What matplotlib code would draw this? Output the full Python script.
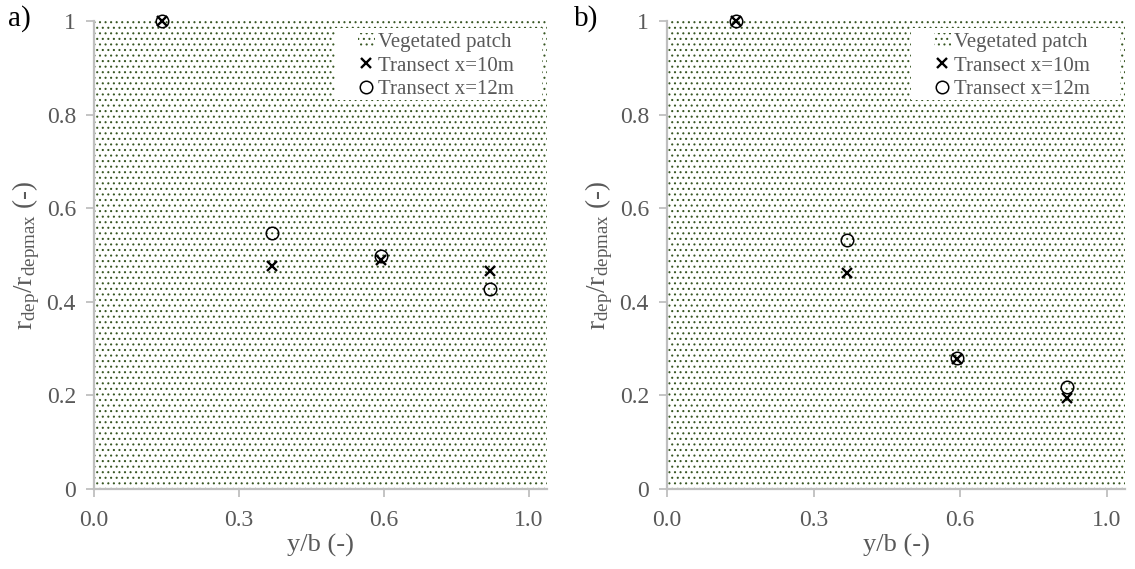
import matplotlib
matplotlib.use("Agg")
import matplotlib.pyplot as plt
from matplotlib.patches import Rectangle

plt.rcParams['font.family'] = ['Liberation Serif', 'DejaVu Serif']
plt.rcParams['mathtext.fontset'] = 'custom'
plt.rcParams['mathtext.rm'] = 'Liberation Serif'
plt.rcParams['mathtext.it'] = 'Liberation Serif:italic'
plt.rcParams['hatch.linewidth'] = 0.75

# lateral position across the patch (y/b) of the sampling points
y_over_b = [0.151, 0.392, 0.633, 0.874]

# normalised deposition rate, panel a
a_x10 = [1.0, 0.477, 0.490, 0.465]
a_x12 = [1.0, 0.547, 0.497, 0.428]

# normalised deposition rate, panel b
b_x10 = [1.0, 0.462, 0.277, 0.194]
b_x12 = [1.0, 0.531, 0.280, 0.218]

# extent of the vegetated patch shading
patch_x = [0.0, 1.0]
patch_top = [1.0, 1.0]

x_ticks = [0.0, 0.32, 0.64, 0.96]
x_tick_labels = ['0.0', '0.3', '0.6', '1.0']
y_ticks = [0, 0.2, 0.4, 0.6, 0.8, 1.0]
y_tick_labels = ['0', '0.2', '0.4', '0.6', '0.8', '1']

GREY_TXT = '#595959'
GREY_AX = '#bfbfbf'
GREEN = '#385723'

W, H = 1135, 569
fig = plt.figure(figsize=(W / 100, H / 100), dpi=100)

panels = [
    ("a)", a_x10, a_x12, (94, 453), 8),
    ("b)", b_x10, b_x12, (667, 458), 574),
]

for tag, s10, s12, (left_px, width_px), tag_px in panels:
    ax = fig.add_axes([left_px / W, 1 - 489 / H, width_px / W, 468 / H])
    ax.fill_between(patch_x, 0, patch_top, facecolor='white',
                    edgecolor=GREEN, hatch='...', linewidth=0,
                    label='Vegetated patch', zorder=1)
    ax.plot(y_over_b, s10, linestyle='none', marker='x', markersize=7.5,
            markeredgewidth=1.7, color='black', label='Transect x=10m',
            zorder=5, clip_on=False)
    ax.plot(y_over_b, s12, linestyle='none', marker='o', markersize=9,
            markeredgewidth=1.1, markerfacecolor='none',
            markeredgecolor='black', label='Transect x=12m',
            zorder=5, clip_on=False)

    ax.set_xlim(0, 1.0)
    ax.set_ylim(0, 1.0)
    ax.set_xticks(x_ticks)
    ax.set_xticklabels(x_tick_labels)
    ax.set_yticks(y_ticks)
    ax.set_yticklabels(y_tick_labels)

    for side in ('top', 'right'):
        ax.spines[side].set_visible(False)
    for side in ('left', 'bottom'):
        ax.spines[side].set_color(GREY_AX)
        ax.spines[side].set_linewidth(1.6)
        ax.spines[side].set_zorder(2)
    ax.tick_params(axis='both', direction='out', length=6, width=1.3,
                   color=GREY_AX, labelcolor=GREY_TXT, labelsize=17)
    ax.tick_params(axis='x', pad=9)
    ax.tick_params(axis='y', pad=7)

    ax.set_xlabel('y/b (-)', fontsize=19, color=GREY_TXT, labelpad=2)
    ax.set_ylabel(r'r$_{\mathrm{dep}}$/r$_{\mathrm{depmax}}$ (-)',
                  fontsize=19.5, color=GREY_TXT, labelpad=3)

    # white legend box with wide side margins
    ax.add_patch(Rectangle((0.533, 0.832), 0.455, 0.152, transform=ax.transAxes,
                           facecolor='white', edgecolor='none', zorder=3))
    leg = ax.legend(loc='upper left', bbox_to_anchor=(0.583, 0.975),
                    fontsize=15, frameon=False,
                    handlelength=0.8, handleheight=0.7, handletextpad=0.15,
                    borderpad=0.0, labelspacing=0.18, borderaxespad=0)
    for t in leg.get_texts():
        t.set_color(GREY_TXT)
    leg.set_zorder(4)

    fig.text(tag_px / W, 1 - 5 / H, tag, fontsize=21,
             color='black', ha='left', va='top')

fig.savefig('out.png', dpi=100)
